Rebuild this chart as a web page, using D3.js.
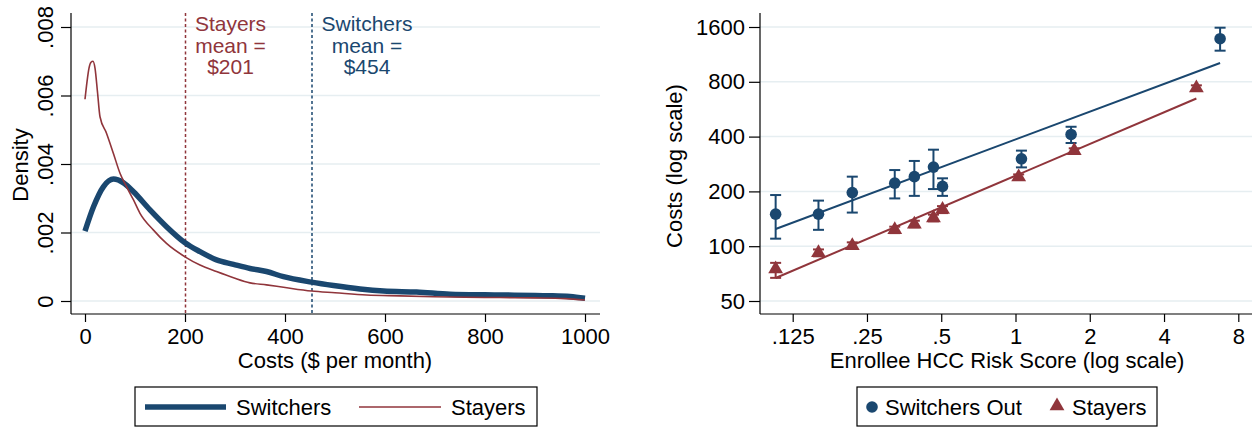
<!DOCTYPE html>
<meta charset="utf-8">
<style>
body { margin: 0; background: #fff; }
svg { font-family: "Liberation Sans", Arial, Helvetica, sans-serif; }
.grid line { stroke: #e6eef1; stroke-width: 1.5px; }
.axis text { font-size: 22px; fill: #000; }
.axis line { stroke: #000; stroke-width: 1.2px; }
.axis path { display: none; }
.title { font-size: 22px; fill: #000; }
.legtext { font-size: 22px; fill: #000; }
</style>
<svg width="1254" height="428"></svg>
<script src="https://d3js.org/d3.v7.min.js"></script>
<script>
// ---- left panel: kernel densities of monthly costs ----
var costSwitch = [0, 17, 37, 57, 77, 97, 130, 163, 200, 230, 263, 297, 330, 363, 397, 453, 497, 550, 597, 663, 730, 800, 830, 930, 970, 1000];
var denSwitch  = [.00204, .00275, .00334, .00356, .00345, .00319, .00266, .00217, .0017, .00144, .0012, .00107, .00095, .00086, .00071, .00055, .00045, .00035, .00029, .00026, .0002, .00018, .000175, .000155, .00013, .00008];
var costStay = [0, 4, 8, 12, 16, 20, 25, 30, 43, 57, 70, 83, 97, 110, 137, 163, 200, 230, 263, 297, 330, 363, 397, 453, 500, 563, 630, 697, 760, 830, 900, 960, 1000];
var denStay  = [.00589, .0064, .0068, .00697, .007, .0068, .0061, .00538, .0049, .0043, .00373, .00334, .00295, .00256, .00207, .00168, .00129, .00105, .00086, .00068, .00053, .00047, .0004, .00029, .00024, .000175, .00015, .000126, .00011, .0001, .00009, .00007, .00003];
var meanStay = 201, meanSwitch = 454;
var densXTicks = [0, 200, 400, 600, 800, 1000];
var densYTicks = [0, .002, .004, .006, .008];
var densYLabels = ["0", ".002", ".004", ".006", ".008"];

// ---- right panel: costs by risk score bin (log-log) ----
var riskSwitch = [0.1066, 0.159, 0.218, 0.324, 0.389, 0.465, 0.506, 1.057, 1.68, 6.75];
var costOut    = [150, 150, 197, 222, 241, 272, 213, 302, 411, 1380];
var ciLoOut    = [110, 123, 153, 183, 189, 206, 189, 271, 369, 1186];
var ciHiOut    = [191, 178, 241, 262, 294, 339, 236, 335, 453, 1586];
var riskStay   = [0.1066, 0.159, 0.218, 0.324, 0.389, 0.465, 0.506, 1.03, 1.73, 5.41];
var costStayer = [75, 92, 100.6, 123, 132, 143, 159, 240, 335, 740];
var ciLoStay   = [67, 88, 97, 118, 127, 137, 152, 232, 325, 715];
var ciHiStay   = [81, 96, 105, 128, 138, 149, 166, 248, 345, 765];
// fitted lines: cost = a * risk^b
var fitOut  = [386, 0.506];
var fitStay = [244, 0.578];
var riskTicks = [0.125, 0.25, 0.5, 1, 2, 4, 8];
var riskLabels = [".125", ".25", ".5", "1", "2", "4", "8"];
var costTicks = [50, 100, 200, 400, 800, 1600];

var blue = "#1a476f", red = "#90353b";
var svg = d3.select("svg");

// ================= left panel =================
var x1 = d3.scaleLinear().domain([0, 1000]).range([85, 585]);
var y1 = d3.scaleLinear().domain([0, .008]).range([301, 27]);
var g1 = svg.append("g");

g1.append("g").attr("class", "grid").selectAll("line").data(densYTicks).enter().append("line")
  .attr("x1", 71).attr("x2", 600).attr("y1", function(d) { return y1(d); }).attr("y2", function(d) { return y1(d); });

g1.append("line").attr("x1", 71).attr("x2", 71).attr("y1", 13).attr("y2", 314).attr("stroke", "#000").attr("stroke-width", 1.2);
g1.append("line").attr("x1", 71).attr("x2", 600).attr("y1", 314).attr("y2", 314).attr("stroke", "#000").attr("stroke-width", 1.2);

var ax1 = g1.append("g").attr("class", "axis").attr("transform", "translate(71,0)")
  .call(d3.axisLeft(y1).tickValues(densYTicks).tickSize(10).tickSizeOuter(0)
    .tickFormat(function(d, i) { return densYLabels[i]; }));
ax1.selectAll("text").attr("x", null).attr("dy", null).attr("text-anchor", "middle")
  .attr("transform", "translate(-18,0) rotate(-90)");

g1.append("g").attr("class", "axis").attr("transform", "translate(0,314)")
  .call(d3.axisBottom(x1).tickValues(densXTicks).tickSize(8).tickSizeOuter(0).tickPadding(6).tickFormat(d3.format("d")));

// mean lines
[[meanStay, red], [meanSwitch, blue]].forEach(function(m) {
  g1.append("line").attr("x1", x1(m[0])).attr("x2", x1(m[0])).attr("y1", 13).attr("y2", 314)
    .attr("stroke", m[1]).attr("stroke-width", 1.5).attr("stroke-dasharray", "3,2.5");
});

var line1 = d3.line().curve(d3.curveMonotoneX);
g1.append("path").datum(costSwitch.map(function(c, i) { return [x1(c), y1(denSwitch[i])]; }))
  .attr("d", line1).attr("fill", "none").attr("stroke", blue).attr("stroke-width", 5.5);
g1.append("path").datum(costStay.map(function(c, i) { return [x1(c), y1(denStay[i])]; }))
  .attr("d", line1).attr("fill", "none").attr("stroke", red).attr("stroke-width", 1.6);

function note(cx, lines, col) {
  var t = g1.append("text").attr("x", cx).attr("y", 31).attr("text-anchor", "middle")
    .attr("fill", col).style("font-size", "21px");
  lines.forEach(function(s, i) {
    t.append("tspan").attr("x", cx).attr("dy", i ? 21.5 : 0).text(s);
  });
}
note(x1(meanStay) + 45, ["Stayers", "mean =", "$" + meanStay], red);
note(x1(meanSwitch) + 55, ["Switchers", "mean =", "$" + meanSwitch], blue);

g1.append("text").attr("class", "title").attr("text-anchor", "middle")
  .attr("transform", "translate(28,165) rotate(-90)").text("Density");
g1.append("text").attr("class", "title").attr("text-anchor", "middle")
  .attr("x", 335).attr("y", 368).text("Costs ($ per month)");

// legend left
g1.append("rect").attr("x", 135).attr("y", 387).attr("width", 402).attr("height", 39)
  .attr("fill", "#fff").attr("stroke", "#000").attr("stroke-width", 1.2);
g1.append("line").attr("x1", 145).attr("x2", 226).attr("y1", 407).attr("y2", 407).attr("stroke", blue).attr("stroke-width", 5.5);
g1.append("text").attr("class", "legtext").attr("x", 236).attr("y", 415).text("Switchers");
g1.append("line").attr("x1", 359).attr("x2", 441).attr("y1", 407).attr("y2", 407).attr("stroke", red).attr("stroke-width", 1.6);
g1.append("text").attr("class", "legtext").attr("x", 451).attr("y", 415).text("Stayers");

// ================= right panel =================
var x2 = d3.scaleLog().base(2).domain([0.125, 8]).range([792.7, 1238.3]);
var y2 = d3.scaleLog().base(2).domain([50, 1600]).range([301, 27]);
var g2 = svg.append("g");

g2.append("g").attr("class", "grid").selectAll("line").data(costTicks).enter().append("line")
  .attr("x1", 760).attr("x2", 1252).attr("y1", function(d) { return y2(d); }).attr("y2", function(d) { return y2(d); });

g2.append("line").attr("x1", 760).attr("x2", 760).attr("y1", 13).attr("y2", 314).attr("stroke", "#000").attr("stroke-width", 1.2);
g2.append("line").attr("x1", 760).attr("x2", 1252).attr("y1", 314).attr("y2", 314).attr("stroke", "#000").attr("stroke-width", 1.2);

g2.append("g").attr("class", "axis").attr("transform", "translate(760,0)")
  .call(d3.axisLeft(y2).tickValues(costTicks).tickSize(11).tickSizeOuter(0).tickPadding(4).tickFormat(d3.format("d")));
g2.append("g").attr("class", "axis").attr("transform", "translate(0,314)")
  .call(d3.axisBottom(x2).tickValues(riskTicks).tickSize(8).tickSizeOuter(0).tickPadding(6)
    .tickFormat(function(d, i) { return riskLabels[i]; }));

function fitLine(xs, f, col) {
  var lo = d3.min(xs), hi = d3.max(xs);
  g2.append("line").attr("x1", x2(lo)).attr("y1", y2(f[0] * Math.pow(lo, f[1])))
    .attr("x2", x2(hi)).attr("y2", y2(f[0] * Math.pow(hi, f[1])))
    .attr("stroke", col).attr("stroke-width", 2);
}
fitLine(riskSwitch, fitOut, blue);
fitLine(riskStay, fitStay, red);

function errBars(xs, lo, hi, col) {
  var eg = g2.append("g").attr("stroke", col).attr("stroke-width", 2);
  xs.forEach(function(xv, i) {
    var px = x2(xv);
    eg.append("line").attr("x1", px).attr("x2", px).attr("y1", y2(lo[i])).attr("y2", y2(hi[i]));
    eg.append("line").attr("x1", px - 5.5).attr("x2", px + 5.5).attr("y1", y2(lo[i])).attr("y2", y2(lo[i]));
    eg.append("line").attr("x1", px - 5.5).attr("x2", px + 5.5).attr("y1", y2(hi[i])).attr("y2", y2(hi[i]));
  });
}
errBars(riskStay, ciLoStay, ciHiStay, red);
errBars(riskSwitch, ciLoOut, ciHiOut, blue);

var tri = d3.symbol().type(d3.symbolTriangle).size(95);
g2.selectAll(".tri").data(riskStay).enter().append("path").attr("class", "tri")
  .attr("d", tri).attr("fill", red)
  .attr("transform", function(d, i) { return "translate(" + x2(d) + "," + y2(costStayer[i]) + ")"; });
g2.selectAll(".dot").data(riskSwitch).enter().append("circle").attr("class", "dot")
  .attr("r", 5.8).attr("fill", blue)
  .attr("cx", function(d) { return x2(d); }).attr("cy", function(d, i) { return y2(costOut[i]); });

g2.append("text").attr("class", "title").attr("text-anchor", "middle")
  .attr("transform", "translate(682,166) rotate(-90)").text("Costs (log scale)");
g2.append("text").attr("class", "title").attr("text-anchor", "middle")
  .attr("x", 1007).attr("y", 368).text("Enrollee HCC Risk Score (log scale)");

// legend right
g2.append("rect").attr("x", 857).attr("y", 387).attr("width", 300).attr("height", 39)
  .attr("fill", "#fff").attr("stroke", "#000").attr("stroke-width", 1.2);
g2.append("circle").attr("cx", 872).attr("cy", 407).attr("r", 5.8).attr("fill", blue);
g2.append("text").attr("class", "legtext").attr("x", 885).attr("y", 415).text("Switchers Out");
g2.append("path").attr("d", tri).attr("fill", red).attr("transform", "translate(1057,406)");
g2.append("text").attr("class", "legtext").attr("x", 1072).attr("y", 415).text("Stayers");
</script>
